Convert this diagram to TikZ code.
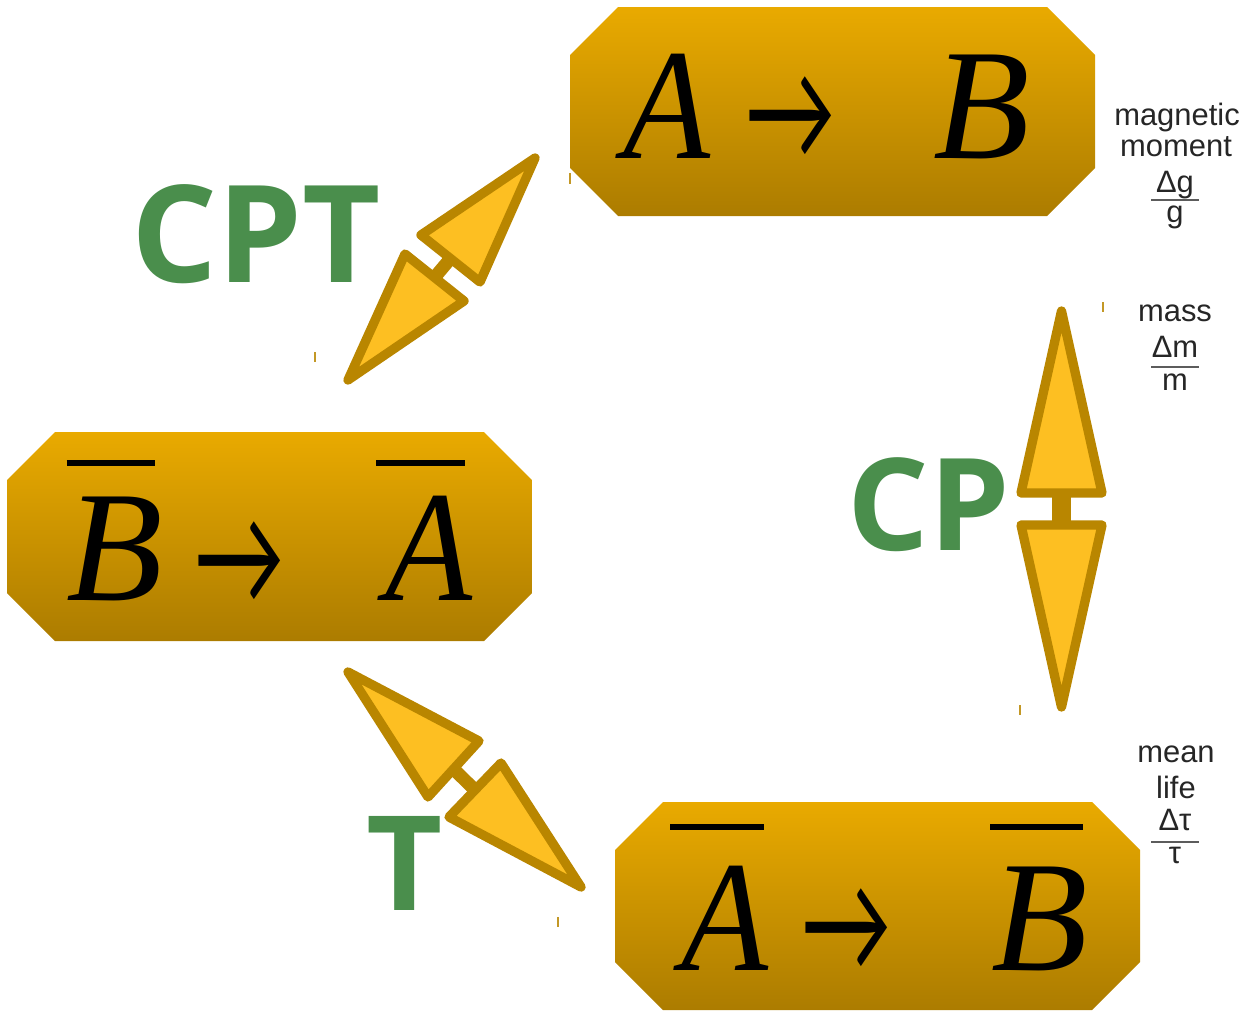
\RequirePackage{fix-cm}
\documentclass[tikz,border=0pt]{standalone}
\usepackage{fontspec}
\setmainfont{Liberation Serif}
\newfontfamily\tagfont{Open Sans}
\newfontfamily\notefont{Liberation Sans}
\newfontfamily\arrowfont{Lato}
\usepackage{graphicx}

\definecolor{panelTop}{RGB}{233,170,0}
\definecolor{panelBot}{RGB}{172,124,0}
\definecolor{tipFill}{RGB}{253,191,34}
\definecolor{tipEdge}{RGB}{185,134,0}
\definecolor{tagGreen}{RGB}{74,142,76}
\definecolor{noteInk}{RGB}{38,38,38}

% letter with a bar over it: [#1 height of the bar], #2 shift, #3 length, #4 the letter
\newcommand\barred[4][0.85em]{\leavevmode\rlap{\kern#2\raisebox{#1}{\rule{#3}{0.038em}}}#4}
% slim italic A
\newcommand\slimA{\scalebox{0.9}[1]{A}}
% the reaction arrow, stretched upwards
\newcommand\reacto{\scalebox{1}[1.48]{\arrowfont\fontsize{52.4}{52.4}\selectfont →}}

\tikzset{
  panel/.style={top color=panelTop, bottom color=panelBot, draw=none},
  sym/.style={inner sep=0pt, anchor=base, font=\fontsize{90}{90}\selectfont\itshape},
  relarrow/.style={inner sep=0pt},
  tag/.style={inner sep=0pt, anchor=base, text=tagGreen},
  note/.style={inner sep=0pt, anchor=base, text=noteInk, font=\notefont\fontsize{17.6}{17.6}\selectfont},
  half/.style={draw=tipEdge, fill=tipFill, line width=5.3pt, line join=round},
  neck/.style={draw=tipEdge, line width=#1},
  fracbar/.style={draw=noteInk!75, line width=1.1pt},
  stray/.style={draw=tipEdge!85, line width=1.1pt},
}

% octagonal panel: x1, y1, x2, y2 (corner cut 48)
\newcommand\panelpath[4]{%
  \path[panel] (#1,#2+48) -- (#1+48,#2) -- (#3-48,#2) -- (#3,#2+48)
    -- (#3,#4-48) -- (#3-48,#4) -- (#1+48,#4) -- (#1,#4-48) -- cycle;}

\begin{document}
\begin{tikzpicture}[x=0.02cm, y=-0.02cm]
\useasboundingbox (0,0) rectangle (1244,1011);

% ---- panels ----
\panelpath{570}{7}{1095}{216}
\panelpath{7}{432}{532}{641}
\panelpath{615}{802}{1140}{1010}

% A -> B
\node[sym] (ab-a) at (667,158) {\slimA};
\node[relarrow] (ab-to) at (790.5,118) {\reacto};
\node[sym] (ab-b) at (982,158) {B};

% Bbar -> Abar
\node[sym] (ba-b) at (115,600) {\barred{0em}{0.56em}{B}};
\node[relarrow] (ba-to) at (240,563) {\reacto};
\node[sym] (ba-a) at (429,600) {\barred{-0.06em}{0.56em}{\slimA}};

% Abar -> Bbar
\node[sym] (ab2-a) at (725,970) {\barred[0.885em]{-0.07em}{0.59em}{\slimA}};
\node[relarrow] (ab2-to) at (847,930) {\reacto};
\node[sym] (ab2-b) at (1040,970) {\barred[0.885em]{-0.01em}{0.59em}{B}};

% ---- symmetry links ----
% CPT
\coordinate (cpt-n1) at (450.5,258.5);
\coordinate (cpt-n2) at (434.5,277.5);
\draw[neck=7.4pt] (cpt-n1) -- (cpt-n2);
\draw[half] (535,158) -- (421,235) -- (480,282) -- cycle;
\draw[half] (348,380) -- (405,254) -- (464,301) -- cycle;

% CP
\coordinate (cp-n1) at (1061.5,493);
\coordinate (cp-n2) at (1061.5,525);
\draw[neck=10.8pt] (cp-n1) -- (cp-n2);
\draw[half] (1061.5,311) -- (1021,493) -- (1102,493) -- cycle;
\draw[half] (1061.5,707) -- (1021,525) -- (1102,525) -- cycle;

% T
\coordinate (t-n1) at (453.5,769);
\coordinate (t-n2) at (475,790);
\draw[neck=7.4pt] (t-n1) -- (t-n2);
\draw[half] (348,672) -- (479,741) -- (428,797) -- cycle;
\draw[half] (581,887) -- (501,763) -- (449,817) -- cycle;

% small leftover ticks
\draw[stray] (570,173) -- (570,184);
\draw[stray] (315,352) -- (315,362);
\draw[stray] (1103,302) -- (1103,312);
\draw[stray] (1020,705) -- (1020,715);
\draw[stray] (558,917) -- (558,927);

% ---- symmetry names ----
\node[tag, font=\tagfont\bfseries\fontsize{77}{77}\selectfont] (tag-cpt) at (256,282) {CPT};
\node[tag, font=\tagfont\bfseries\fontsize{73}{73}\selectfont] (tag-cp) at (929,550) {CP};
\node[tag, font=\tagfont\bfseries\fontsize{75}{75}\selectfont] (tag-t) at (405,910) {T};

% ---- measured quantities ----
\node[note] (mag-1) at (1177,125) {magnetic};
\node[note] (mag-2) at (1176,156) {moment};
\node[note] (mag-num) at (1175,192) {Δg};
\node[note] (mag-den) at (1175,222) {g};
\draw[fracbar] (1151,200) -- (1199,200);

\node[note] (mass-1) at (1175,321) {mass};
\node[note] (mass-num) at (1175,357) {Δm};
\node[note] (mass-den) at (1175,390) {m};
\draw[fracbar] (1151,367) -- (1199,367);

\node[note] (life-1) at (1176,762) {mean};
\node[note] (life-2) at (1176,798) {life};
\node[note] (life-num) at (1175,830) {Δτ};
\node[note] (life-den) at (1175,863) {τ};
\draw[fracbar] (1151,842) -- (1199,842);
\end{tikzpicture}
\end{document}
